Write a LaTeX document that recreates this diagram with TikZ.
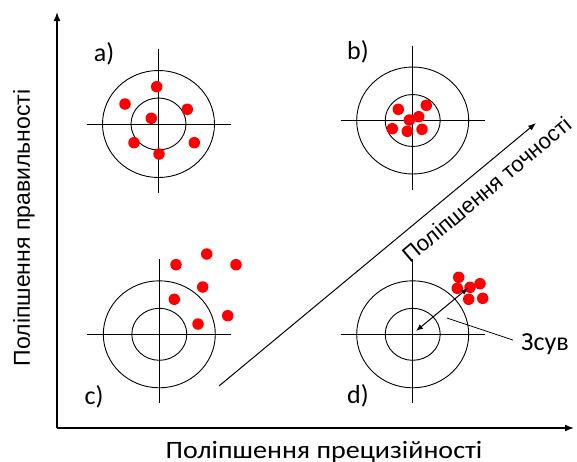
\documentclass[tikz,border=0pt]{standalone}
\usepackage{fontspec}
\setmainfont{Carlito}
\newfontfamily\arialf{Liberation Sans}
\newfontfamily\widef[FakeStretch=1.12]{Carlito}
\usetikzlibrary{arrows.meta,calc}
\begin{document}
\begin{tikzpicture}[x=1pt,y=-1pt,
  axis/.style={line width=1.5pt,-{Latex[length=9pt,width=7pt]}},
  ring/.style={draw,line width=0.9pt},
  hair/.style={draw,line width=1pt},
  dot/.style={circle,fill=red,draw=none,inner sep=0pt,minimum size=11.5pt},
  lbl/.style={font=\fontsize{26}{26}\selectfont,inner sep=0pt},
  albl/.style={font=\arialf\fontsize{23}{23}\selectfont,inner sep=0pt}]
\useasboundingbox (0,0) rectangle (577,461);
% axes
\coordinate (O) at (57,428);
\coordinate (Ytop) at (57,12);
\coordinate (Xend) at (574,428);
\draw[axis] (O) -- (Ytop);
\draw[axis] (O) -- (Xend);
% targets
\foreach \n/\cx/\cy in {A/158.5/124, B/412.7/120.5, C/159.3/334.3, D/412.7/334.3}{
  \coordinate (\n) at (\cx,\cy);
  \draw[ring] (\n) ellipse [x radius=56, y radius=53.5];
  \draw[ring] (\n) ellipse [x radius=27.5, y radius=26];
  \draw[hair] ($(\n)+(-72,0)$) -- ($(\n)+(72,0)$);
  \draw[hair] ($(\n)+(0,-75)$) -- ($(\n)+(0,69)$);
}
% dots
\foreach \x/\y [count=\i] in {156.7/86.7, 125/104, 187.3/109.3, 151.3/118.3, 134/142.7, 194.3/142.7, 159/154}
  \node[dot] (a\i) at (\x,\y) {};
\foreach \x/\y [count=\i] in {398.3/109.3, 426.3/105.3, 418.7/116.7, 409.3/120, 392.3/128.7, 407.3/131.3, 422/129.3}
  \node[dot] (b\i) at (\x,\y) {};
\foreach \x/\y [count=\i] in {206.7/254, 176/264.7, 236/264.7, 202.7/287, 174.3/299.3, 227.7/315.7, 198/324}
  \node[dot] (c\i) at (\x,\y) {};
\foreach \x/\y [count=\i] in {458.7/277.3, 457.3/288.3, 470/287.3, 480/283.7, 468.7/299.3, 482.7/298.3}
  \node[dot] (d\i) at (\x,\y) {};
% diagonal arrow
\coordinate (G1) at (219,386);
\coordinate (G2) at (536,123);
\draw[line width=1pt,-{Latex[length=8pt,width=6pt]}] (G1) -- (G2);
\node[font=\arialf\fontsize{22}{22}\selectfont,inner sep=0pt,rotate=40] (acc) at (486.5,189.5) {Поліпшення точності};
% shift arrow
\coordinate (S1) at (416,331);
\coordinate (S2) at (468,288);
\draw[line width=1pt,{Latex[length=7pt,width=5.5pt]}-{Latex[length=7pt,width=5.5pt]}] (S1) -- (S2);
\node[lbl,anchor=base west] (zsuv) at (521,350) {Зсув};
\coordinate (L1) at (447,318);
\coordinate (L2) at (513,340);
\draw[line width=0.8pt] (L1) -- (L2);
% labels
\node[lbl] (la) at (104,53.5) {a)};
\node[lbl] (lb) at (358,52) {b)};
\node[lbl] (lc) at (94,397) {c)};
\node[lbl] (ld) at (358,396) {d)};
\node[inner sep=0pt,anchor=base,font=\widef\fontsize{25}{25}\selectfont] (xl) at (324,458) {Поліпшення прецизійності};
\node[albl,rotate=90] (yl) at (24,228) {Поліпшення правильності};
\end{tikzpicture}
\end{document}
